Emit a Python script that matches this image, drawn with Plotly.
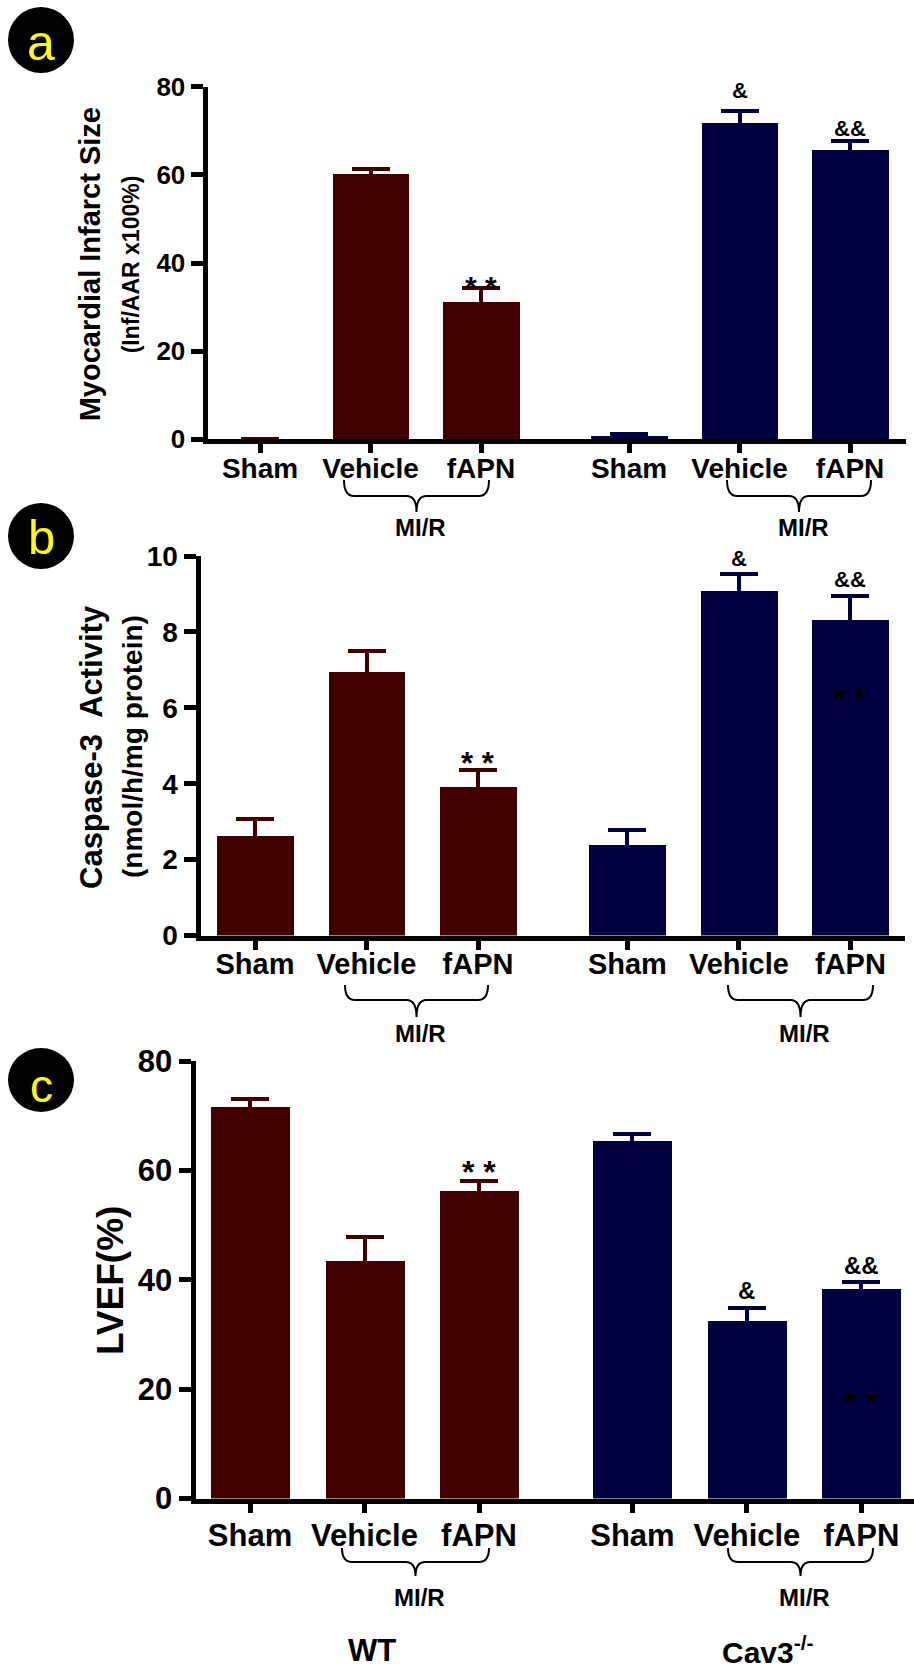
import plotly.graph_objects as go

W, H = 914, 1670

# ---------------- data ----------------
groups = ["WT", "Cav3<sup>-/-</sup>"]
categories = ["Sham", "Vehicle", "fAPN", "Sham", "Vehicle", "fAPN"]

infarct_mean = [0.0, 60.2, 31.3, 0.8, 71.8, 65.8]
infarct_sem = [0.0, 1.1, 3.1, 0.3, 2.6, 1.8]

caspase_mean = [2.62, 6.94, 3.90, 2.38, 9.08, 8.32]
caspase_sem = [0.44, 0.55, 0.45, 0.39, 0.45, 0.63]

lvef_mean = [71.6, 43.4, 56.3, 65.4, 32.5, 38.4]
lvef_sem = [1.5, 4.4, 1.8, 1.2, 2.4, 1.2]

# significance marks: (bar index, text, y-position in data units)
infarct_marks = [(2, "* *", 36.5), (4, "&", 78.8), (5, "&&", 70.0)]
caspase_marks = [(2, "* *", 4.74), (4, "&", 9.87), (5, "&&", 9.32), (5, "* *", 6.44)]
lvef_marks = [(2, "* *", 61.2), (4, "&", 37.7), (5, "&&", 42.2), (5, "* *", 19.2)]

# ---------------- style ----------------
WT_COLOR = "#400000"
KO_COLOR = "#000040"
FONT = "Arial, Liberation Sans, sans-serif"
GAP = 0.34          # extra spacing between the two genotype groups
BAR_W = 0.69
LW = 5              # axis line width

positions = [i + (GAP if i >= 3 else 0) for i in range(len(categories))]

panels = [
    dict(letter="a", mean=infarct_mean, sem=infarct_sem, marks=infarct_marks,
         ymax=80, dtick=20, x0=205, x1=906, c0=260, step=110.5, ytop=86.8, ybot=441.8,
         tickfont=26, catfont=28, catshift=-9, markfont=30, ampfont=22,
         titles=[("Myocardial Infarct Size", 29, 90), ("(Inf/AAR x100%)", 23, 131)],
         circle=(41, 40, 33, 33), letter_size=50, letter_dy=3,
         brace=[(344, 489), (727, 871)], brace_y=(480, 496, 512), mir_y=527),
    dict(letter="b", mean=caspase_mean, sem=caspase_sem, marks=caspase_marks,
         ymax=10, dtick=2, x0=198, x1=905, c0=255, step=111.5, ytop=556, ybot=938,
         tickfont=28, catfont=29, catshift=-10, markfont=31, ampfont=22,
         titles=[("Caspase-3  Activity", 31, 92), ("(nmol/h/mg protein)", 28, 133)],
         circle=(41, 536, 33, 33), letter_size=49, letter_dy=1,
         brace=[(345, 488), (728, 873)], brace_y=(985, 1000, 1017), mir_y=1033),
    dict(letter="c", mean=lvef_mean, sem=lvef_sem, marks=lvef_marks,
         ymax=80, dtick=20, x0=193, x1=914, c0=250, step=114.5, ytop=1061, ybot=1501,
         tickfont=31, catfont=31, catshift=-4, markfont=32, ampfont=24,
         titles=[("LVEF(%)", 37, 110)],
         circle=(41, 1080, 33, 32), letter_size=46, letter_dy=6,
         brace=[(342, 489), (728, 873)], brace_y=(1548, 1562, 1576), mir_y=1597),
]


def px(x):
    return x / W


def py(y):
    return 1 - y / H


fig = go.Figure()
annotations = []
shapes = []

for k, p in enumerate(panels, start=1):
    xa = "x" if k == 1 else f"x{k}"
    ya = "y" if k == 1 else f"y{k}"
    for g, (name, color) in enumerate(zip(groups, [WT_COLOR, KO_COLOR])):
        sl = slice(3 * g, 3 * g + 3)
        fig.add_trace(go.Bar(
            x=positions[sl], y=p["mean"][sl], width=BAR_W,
            marker=dict(color=color, line=dict(width=0)),
            error_y=dict(type="data", array=p["sem"][sl], symmetric=True,
                         color=color, thickness=4, width=19),
            name=name, showlegend=False, xaxis=xa, yaxis=ya,
        ))

    # plotly draws axis lines just outside the plot area: shift the domain by half a line
    dx0 = p["x0"] + LW / 2
    dyb = p["ybot"] - LW / 2
    xr = [(dx0 - p["c0"]) / p["step"], (p["x1"] - p["c0"]) / p["step"]]
    axis_common = dict(showline=True, linewidth=LW, linecolor="black", ticks="outside",
                       tickcolor="black", tickwidth=5, showgrid=False, zeroline=False,
                       fixedrange=True, automargin=False)
    fig.update_layout({
        ("xaxis" if k == 1 else f"xaxis{k}"): dict(
            domain=[px(dx0), px(p["x1"])], range=xr, anchor=ya,
            tickvals=positions, ticktext=categories, ticklen=9,
            ticklabelstandoff=p["catshift"],
            tickfont=dict(family=FONT, size=p["catfont"], color="black", weight="bold"),
            **axis_common),
        ("yaxis" if k == 1 else f"yaxis{k}"): dict(
            domain=[py(dyb), py(p["ytop"])], range=[0, p["ymax"]], anchor=xa,
            dtick=p["dtick"], ticklen=12,
            tickfont=dict(family=FONT, size=p["tickfont"], color="black", weight="bold"),
            **axis_common),
    })

    # significance marks
    for idx, txt, yv in p["marks"]:
        is_star = "*" in txt
        annotations.append(dict(
            x=positions[idx], y=yv, xref=xa, yref=ya, text=txt, showarrow=False,
            xanchor="center", yanchor="middle", yshift=-8 if is_star else 2,
            font=dict(family=FONT, size=p["markfont"] if is_star else p["ampfont"],
                      color="black", weight="bold"),
        ))

    # y axis titles
    cy = (p["ytop"] + p["ybot"]) / 2
    for txt, size, xc in p["titles"]:
        annotations.append(dict(
            x=px(xc), y=py(cy), xref="paper", yref="paper", text=txt, showarrow=False,
            textangle=-90, xanchor="center", yanchor="middle",
            font=dict(family=FONT, size=size, color="black", weight="bold"),
        ))

    # panel letter badge
    cx0, cy0, rx, ry = p["circle"]
    shapes.append(dict(type="circle", xref="paper", yref="paper",
                       x0=px(cx0 - rx), x1=px(cx0 + rx), y0=py(cy0 + ry), y1=py(cy0 - ry),
                       fillcolor="black", line=dict(width=0)))
    annotations.append(dict(
        x=px(cx0), y=py(cy0 + p["letter_dy"]), xref="paper", yref="paper", text=p["letter"],
        showarrow=False, xanchor="center", yanchor="middle",
        font=dict(family=FONT, size=p["letter_size"], color="#FFFF00"),
    ))

    # MI/R braces
    yt, ym, yb = p["brace_y"]
    for xl, xr_ in p["brace"]:
        xt = (xl + xr_) / 2
        r = 10
        path = (f"M {px(xl)},{py(yt)} Q {px(xl)},{py(ym)} {px(xl + r)},{py(ym)} "
                f"L {px(xt - r)},{py(ym)} Q {px(xt)},{py(ym)} {px(xt)},{py(yb)} "
                f"Q {px(xt)},{py(ym)} {px(xt + r)},{py(ym)} "
                f"L {px(xr_ - r)},{py(ym)} Q {px(xr_)},{py(ym)} {px(xr_)},{py(yt)}")
        shapes.append(dict(type="path", xref="paper", yref="paper", path=path,
                           line=dict(color="black", width=2)))
        annotations.append(dict(
            x=px(xt + 4), y=py(p["mir_y"]), xref="paper", yref="paper", text="MI/R",
            showarrow=False, xanchor="center", yanchor="middle",
            font=dict(family=FONT, size=24, color="black", weight="bold"),
        ))

# genotype labels
for txt, xc, size in zip(groups, [372, 768], [31, 30]):
    annotations.append(dict(
        x=px(xc), y=py(1650), xref="paper", yref="paper", text=txt, showarrow=False,
        xanchor="center", yanchor="middle",
        font=dict(family=FONT, size=size, color="black", weight="bold"),
    ))

fig.update_layout(
    width=W, height=H, margin=dict(l=0, r=0, t=0, b=0, autoexpand=False),
    paper_bgcolor="white", plot_bgcolor="white",
    bargap=0, showlegend=False,
    annotations=annotations, shapes=shapes,
)

fig.write_html("out.html", config={"displayModeBar": False},
               post_script="document.body.style.margin='0';")
